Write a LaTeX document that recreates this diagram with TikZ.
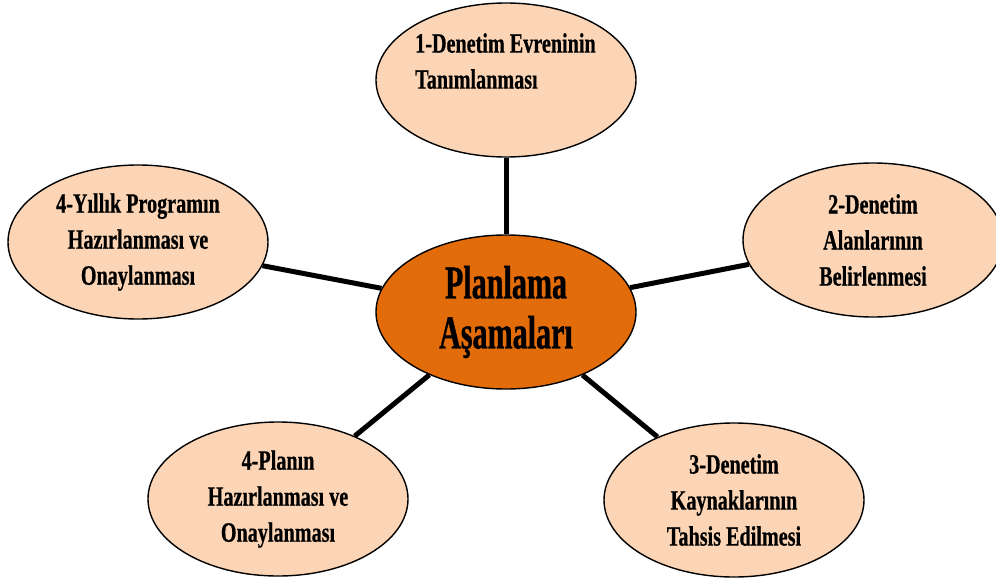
\documentclass[tikz,border=0pt]{standalone}
\usepackage{fontspec}
\setmainfont{Liberation Serif}
\newfontfamily\condfont[FakeStretch=0.72, BoldFeatures={FakeBold=0.6}]{Liberation Serif}
\newfontfamily\widecondfont[FakeStretch=0.64, BoldFeatures={FakeBold=0.8}]{Liberation Serif}
\usetikzlibrary{shapes.geometric}
\definecolor{peach}{HTML}{FBD5B5}
\definecolor{burnt}{HTML}{E36C0A}
\tikzset{
  x=1pt, y=1pt,
  stage/.style={ellipse, draw=black, line width=1.4pt, fill=peach,
    minimum width=260pt, minimum height=154pt, inner sep=0pt,
    align=center, font=\condfont\bfseries\fontsize{28}{36}\selectfont},
  hub/.style={stage, fill=burnt,
    font=\widecondfont\bfseries\fontsize{47}{50}\selectfont},
  spoke/.style={line width=5pt, black},
  plain/.style={inner sep=0pt, align=left,
    font=\condfont\bfseries\fontsize{28}{36}\selectfont}
}
\begin{document}
\begin{tikzpicture}
\useasboundingbox (0,0) rectangle (996,-581);
\clip (0,0) rectangle (996,-581);

% central hub and the five planning stages
\node[hub] (hub) at (506,-312) {Planlama\\Aşamaları};
\node[stage] (s1) at (506,-80) {};
\node[plain, anchor=north west] (s1text) at (415,-33) {1-Denetim Evreninin\\Tanımlanması};
\node[stage] (s2) at (873,-240) {2-Denetim\\Alanlarının\\Belirlenmesi};
\node[stage] (s3) at (734,-500) {3-Denetim\\Kaynaklarının\\Tahsis Edilmesi};
\node[stage] (s4) at (278,-499) {4-Planın\\Hazırlanması ve\\Onaylanması};
\node[stage] (s5) at (138,-242) {4-Yıllık Programın\\Hazırlanması ve\\Onaylanması};

% spokes from the hub to each stage
\draw[spoke] (hub) -- (s1);
\draw[spoke] (hub) -- (s2);
\draw[spoke] (hub) -- (s3);
\draw[spoke] (hub) -- (s4);
\draw[spoke] (hub) -- (s5);
\end{tikzpicture}
\end{document}
